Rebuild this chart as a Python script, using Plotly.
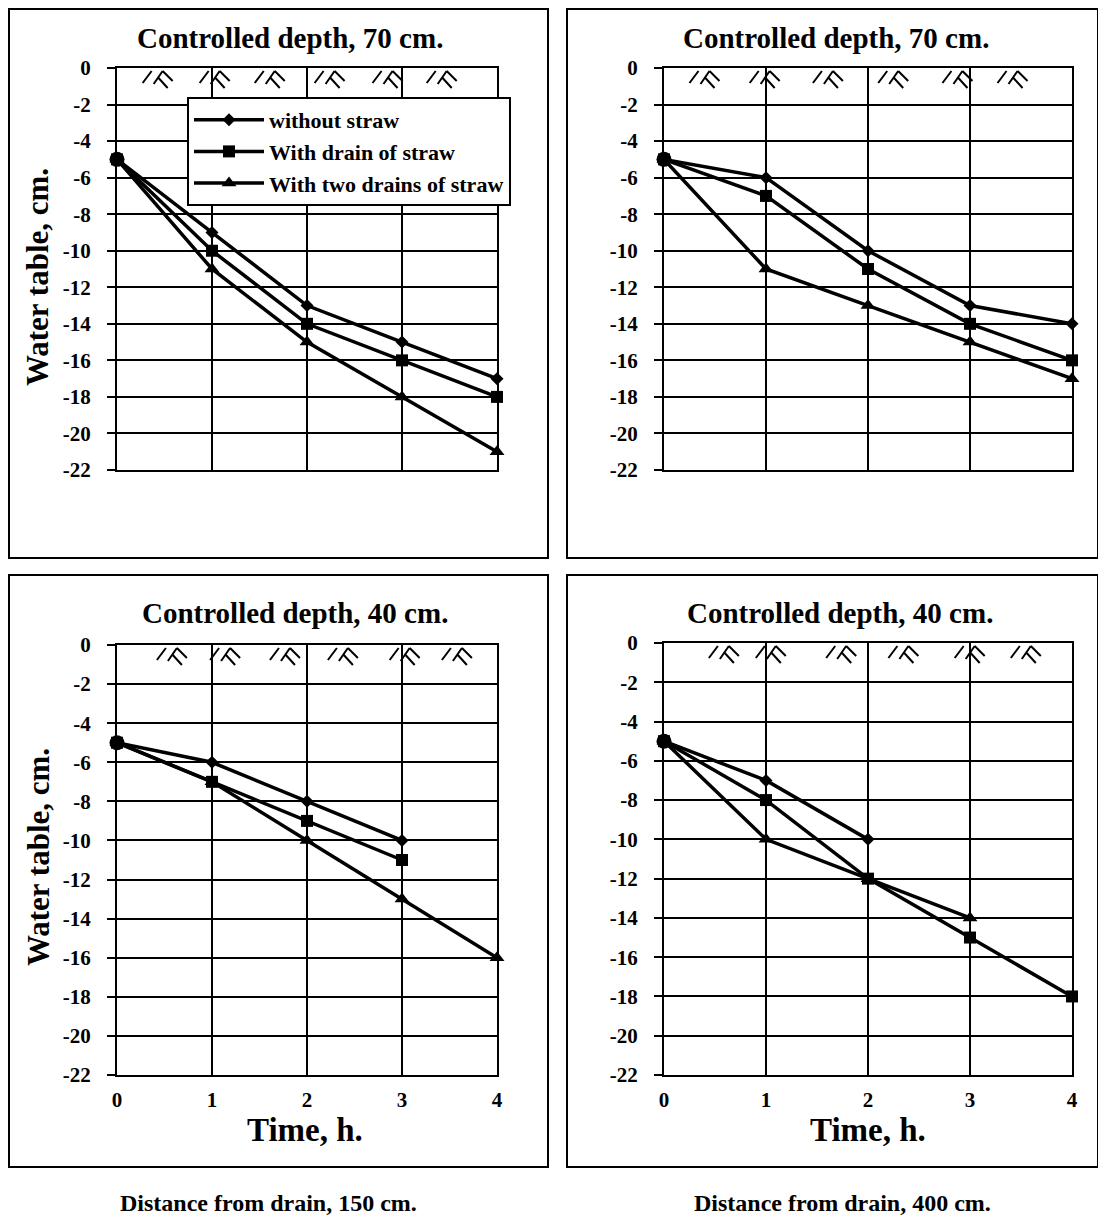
import plotly.graph_objects as go

# ---------------- data ----------------
times = [0, 1, 2, 3, 4]
series_names = ["without straw", "With drain of straw", "With two drains of straw"]

# panel: Controlled depth 70 cm, distance 150 cm
tl_without = [-5, -9, -13, -15, -17]
tl_drain = [-5, -10, -14, -16, -18]
tl_two = [-5, -11, -15, -18, -21]
# panel: Controlled depth 70 cm, distance 400 cm
tr_without = [-5, -6, -10, -13, -14]
tr_drain = [-5, -7, -11, -14, -16]
tr_two = [-5, -11, -13, -15, -17]
# panel: Controlled depth 40 cm, distance 150 cm
bl_without = [-5, -6, -8, -10]
bl_drain = [-5, -7, -9, -11]
bl_two = [-5, -7, -10, -13, -16]
# panel: Controlled depth 40 cm, distance 400 cm
br_without = [-5, -7, -10]
br_drain = [-5, -8, -12, -15, -18]
br_two = [-5, -10, -12, -14]

panel_titles = ["Controlled depth, 70 cm.", "Controlled depth, 70 cm.",
                "Controlled depth, 40 cm.", "Controlled depth, 40 cm."]
captions = ["Distance from drain, 150 cm.", "Distance from drain, 400 cm."]
y_title = "Water table, cm."
x_title = "Time, h."
y_ticks = [0, -2, -4, -6, -8, -10, -12, -14, -16, -18, -20, -22]
y_ticktext = [str(v) for v in y_ticks]
x_ticks = [0, 1, 2, 3, 4]
x_ticktext = [str(v) for v in x_ticks]

# ---------------- layout constants ----------------
W, H = 1106, 1229
OFF = 8  # page offset of the figure in the screenshot
FONT = "Liberation Serif"

def px(xp):
    return (xp - OFF) / W

def py(yp):
    return 1 - (yp - OFF) / H

panels = [
    dict(data=[tl_without, tl_drain, tl_two], xd=[px(117), px(497)], yd=[py(470), py(68)],
         box=(9, 9, 548, 558), title=(290, 38), grass=[0.27, 0.87, 1.45, 2.08, 2.69, 3.26],
         ytitle=(38, 277), xlabels=False),
    dict(data=[tr_without, tr_drain, tr_two], xd=[px(664), px(1072)], yd=[py(470), py(68)],
         box=(567, 9, 1098, 558), title=(836, 38), grass=[0.25, 0.84, 1.46, 2.1, 2.73, 3.27],
         ytitle=None, xlabels=False),
    dict(data=[bl_without, bl_drain, bl_two], xd=[px(117), px(497)], yd=[py(1075), py(645)],
         box=(9, 575, 548, 1167), title=(295, 613), grass=[0.42, 0.98, 1.61, 2.22, 2.87, 3.42],
         ytitle=(38, 857), xlabels=True, xtitle=(305, 1130)),
    dict(data=[br_without, br_drain, br_two], xd=[px(664), px(1072)], yd=[py(1075), py(643)],
         box=(567, 575, 1098, 1167), title=(840, 613), grass=[0.44, 0.90, 1.59, 2.2, 2.85, 3.40],
         ytitle=None, xlabels=True, xtitle=(868, 1130)),
]

symbols = ["diamond", "square", "triangle-up"]
sizes = [10, 12, 13]

fig = go.Figure()
shapes = []
annotations = []

GRASS_PATH = ("M0,-15 L9,-3 "
              "M11,-16 L20,-3 "
              "M20,-3 L30,-13 "
              "M15,-9 L25,-20")

for i, p in enumerate(panels):
    n = i + 1
    xa = "x" if n == 1 else f"x{n}"
    ya = "y" if n == 1 else f"y{n}"
    for k, vals in enumerate(p["data"]):
        fig.add_trace(go.Scatter(
            x=times[:len(vals)], y=vals, mode="lines+markers", name=series_names[k],
            line=dict(color="black", width=3.5),
            marker=dict(symbol=symbols[k], size=sizes[k], color="black"),
            xaxis=xa, yaxis=ya, showlegend=(n == 1), cliponaxis=False,
        ))
    # common start point (large dot)
    fig.add_trace(go.Scatter(
        x=[times[0]], y=[p["data"][0][0]], mode="markers",
        marker=dict(symbol="circle", size=15, color="black"),
        xaxis=xa, yaxis=ya, showlegend=False, cliponaxis=False,
    ))

    axis_common = dict(showline=True, linecolor="black", linewidth=2, mirror=True,
                       showgrid=True, gridcolor="black", gridwidth=2, zeroline=False,
                       automargin=False)
    fig.update_layout({
        ("xaxis" if n == 1 else f"xaxis{n}"): dict(
            domain=p["xd"], anchor=ya, range=[0, 4], tickvals=x_ticks, ticktext=x_ticktext,
            showticklabels=p["xlabels"], ticks="", ticklabelstandoff=5,
            tickfont=dict(family=FONT, size=21, color="black", weight="bold"),
            **axis_common),
        ("yaxis" if n == 1 else f"yaxis{n}"): dict(
            domain=p["yd"], anchor=xa, range=[-22, 0], tickvals=y_ticks, ticktext=y_ticktext,
            ticks="outside", ticklen=8, tickwidth=2, tickcolor="black",
            ticklabelstandoff=12,
            tickfont=dict(family=FONT, size=21, color="black", weight="bold"),
            **axis_common),
    })

    # panel frame
    x0, y0, x1, y1 = p["box"]
    shapes.append(dict(type="rect", xref="paper", yref="paper",
                       x0=px(x0), x1=px(x1), y0=py(y1), y1=py(y0),
                       line=dict(color="black", width=2), layer="below"))
    # ground-surface symbols
    for gx in p["grass"]:
        shapes.append(dict(type="path", xref=xa, yref=ya, xsizemode="pixel", ysizemode="pixel",
                           xanchor=gx, yanchor=0, path=GRASS_PATH,
                           line=dict(color="black", width=2)))
    # titles
    annotations.append(dict(text=f"<b>{panel_titles[i]}</b>", xref="paper", yref="paper",
                            x=px(p["title"][0]), y=py(p["title"][1]), showarrow=False,
                            xanchor="center", yanchor="middle",
                            font=dict(family=FONT, size=29, color="black")))
    if p["ytitle"]:
        annotations.append(dict(text=f"<b>{y_title}</b>", xref="paper", yref="paper",
                                x=px(p["ytitle"][0]), y=py(p["ytitle"][1]), showarrow=False,
                                xanchor="center", yanchor="middle",
                                textangle=-90, font=dict(family=FONT, size=31, color="black")))
    if p.get("xtitle"):
        annotations.append(dict(text=f"<b>{x_title}</b>", xref="paper", yref="paper",
                                x=px(p["xtitle"][0]), y=py(p["xtitle"][1]), showarrow=False,
                                xanchor="center", yanchor="middle",
                                font=dict(family=FONT, size=33, color="black")))

for cx, txt in zip([268, 843], captions):
    annotations.append(dict(text=f"<b>{txt}</b>", xref="paper", yref="paper",
                            x=px(cx), y=py(1203), showarrow=False,
                            xanchor="center", yanchor="middle",
                            font=dict(family=FONT, size=24, color="black")))

fig.update_layout(
    width=W, height=H, margin=dict(l=0, r=0, t=0, b=0, autoexpand=False),
    paper_bgcolor="white", plot_bgcolor="white",
    shapes=shapes, annotations=annotations,
    legend=dict(x=px(187), y=py(97), xanchor="left", yanchor="top",
                bgcolor="white", bordercolor="black", borderwidth=2,
                font=dict(family=FONT, size=22, color="black", weight="bold"),
                tracegroupgap=0, itemwidth=70),
)

fig.write_html("out.html")
